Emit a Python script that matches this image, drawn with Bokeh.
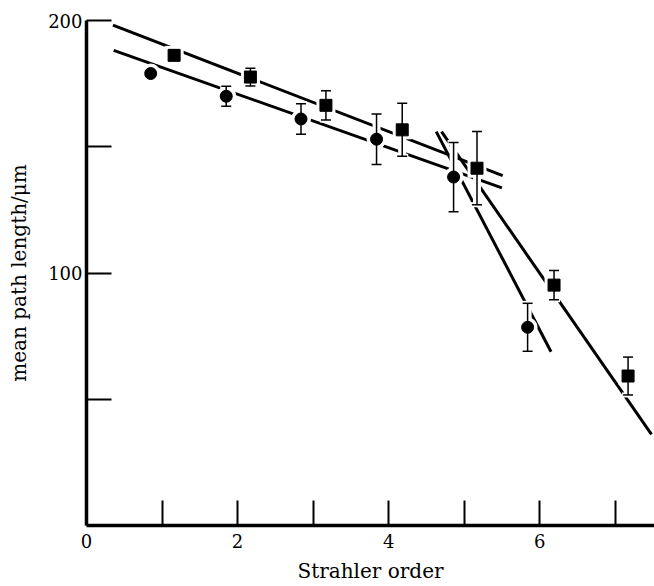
from bokeh.plotting import figure
from bokeh.models import Range1d, FixedTicker
from bokeh.embed import file_html
from bokeh.resources import INLINE

# ---- data ----
order_circ = [0.85, 1.85, 2.84, 3.84, 4.86, 5.84]
len_circ = [179.0, 170.0, 161.0, 153.0, 138.0, 78.5]
err_circ = [1.0, 4.0, 6.0, 10.0, 13.7, 9.5]

order_sq = [1.16, 2.17, 3.17, 4.18, 5.17, 6.19, 7.17]
len_sq = [186.2, 177.6, 166.4, 156.7, 141.5, 95.2, 59.2]
err_sq = [2.0, 3.5, 5.8, 10.5, 14.5, 5.8, 7.5]

# fitted regression lines (end points)
fit_circ_shallow_x = [0.36, 5.50]
fit_circ_shallow_y = [188.2, 133.7]
fit_sq_shallow_x = [0.35, 5.51]
fit_sq_shallow_y = [198.2, 138.6]
fit_circ_steep_x = [4.63, 6.15]
fit_circ_steep_y = [156.0, 68.8]
fit_sq_steep_x = [4.70, 7.48]
fit_sq_steep_y = [156.0, 36.1]

x_ticks = [0, 1, 2, 3, 4, 5, 6, 7]
x_labels = {0: "0", 1: "", 2: "2", 3: "", 4: "4", 5: "", 6: "6", 7: ""}
y_ticks = [50, 100, 150, 200]
y_labels = {50: "", 100: "100", 150: "", 200: "200"}

FONT = "DejaVu Serif"

p = figure(width=654, height=586, output_backend="svg", toolbar_location=None,
           x_range=Range1d(0, 7.52), y_range=Range1d(0, 200),
           min_border_left=86, min_border_right=0, min_border_top=20,
           min_border_bottom=61)
p.outline_line_color = None
p.grid.grid_line_color = None
p.background_fill_color = "white"
p.border_fill_color = "white"

for ax in (p.xaxis[0], p.yaxis[0]):
    ax.axis_line_width = 3.5
    ax.axis_line_color = "black"
    ax.major_tick_in = 25
    ax.major_tick_out = 0
    ax.minor_tick_line_color = None
    ax.major_tick_line_width = 2
    ax.major_tick_line_color = "black"
    ax.major_label_text_font = FONT
    ax.major_label_text_font_size = "18px"
    ax.major_label_text_color = "black"
    ax.axis_label_text_font = FONT
    ax.axis_label_text_font_size = "20px"
    ax.axis_label_text_font_style = "normal"
    ax.axis_label_text_color = "black"

p.xaxis[0].ticker = FixedTicker(ticks=x_ticks)
p.xaxis[0].major_label_overrides = x_labels
p.xaxis[0].axis_label = "Strahler order"
p.xaxis[0].major_label_standoff = 8
p.xaxis[0].axis_label_standoff = 8

p.yaxis[0].ticker = FixedTicker(ticks=y_ticks)
p.yaxis[0].major_label_overrides = y_labels
p.yaxis[0].axis_label = "mean path length/\u03bcm"
p.yaxis[0].major_label_standoff = 4
p.yaxis[0].axis_label_standoff = 14

# fit lines
for xs, ys in ((fit_circ_shallow_x, fit_circ_shallow_y),
               (fit_sq_shallow_x, fit_sq_shallow_y),
               (fit_circ_steep_x, fit_circ_steep_y),
               (fit_sq_steep_x, fit_sq_steep_y)):
    p.line(xs, ys, line_color="black", line_width=3)

circ_lo = [v - e for v, e in zip(len_circ, err_circ)]
circ_hi = [v + e for v, e in zip(len_circ, err_circ)]
sq_lo = [v - e for v, e in zip(len_sq, err_sq)]
sq_hi = [v + e for v, e in zip(len_sq, err_sq)]

# white halos (gaps in lines)
for xs, lo, hi in ((order_circ, circ_lo, circ_hi), (order_sq, sq_lo, sq_hi)):
    p.segment(x0=xs, y0=lo, x1=xs, y1=hi, line_color="white", line_width=8)
    p.scatter(xs, lo, marker="dash", size=12, line_color="white", line_width=5)
    p.scatter(xs, hi, marker="dash", size=12, line_color="white", line_width=5)
p.scatter(order_circ, len_circ, marker="circle", size=19, fill_color="white", line_color="white")
p.scatter(order_sq, len_sq, marker="square", size=18, fill_color="white", line_color="white")

# error bars
for xs, lo, hi in ((order_circ, circ_lo, circ_hi), (order_sq, sq_lo, sq_hi)):
    p.segment(x0=xs, y0=lo, x1=xs, y1=hi, line_color="black", line_width=1.5)
    p.scatter(xs, lo, marker="dash", size=10, line_color="black", line_width=1.5)
    p.scatter(xs, hi, marker="dash", size=10, line_color="black", line_width=1.5)

# markers
p.scatter(order_circ, len_circ, marker="circle", size=12, fill_color="black", line_color="black")
p.scatter(order_sq, len_sq, marker="square", size=12, fill_color="black", line_color="black")

open("out.html", "w").write(file_html(p, INLINE))
